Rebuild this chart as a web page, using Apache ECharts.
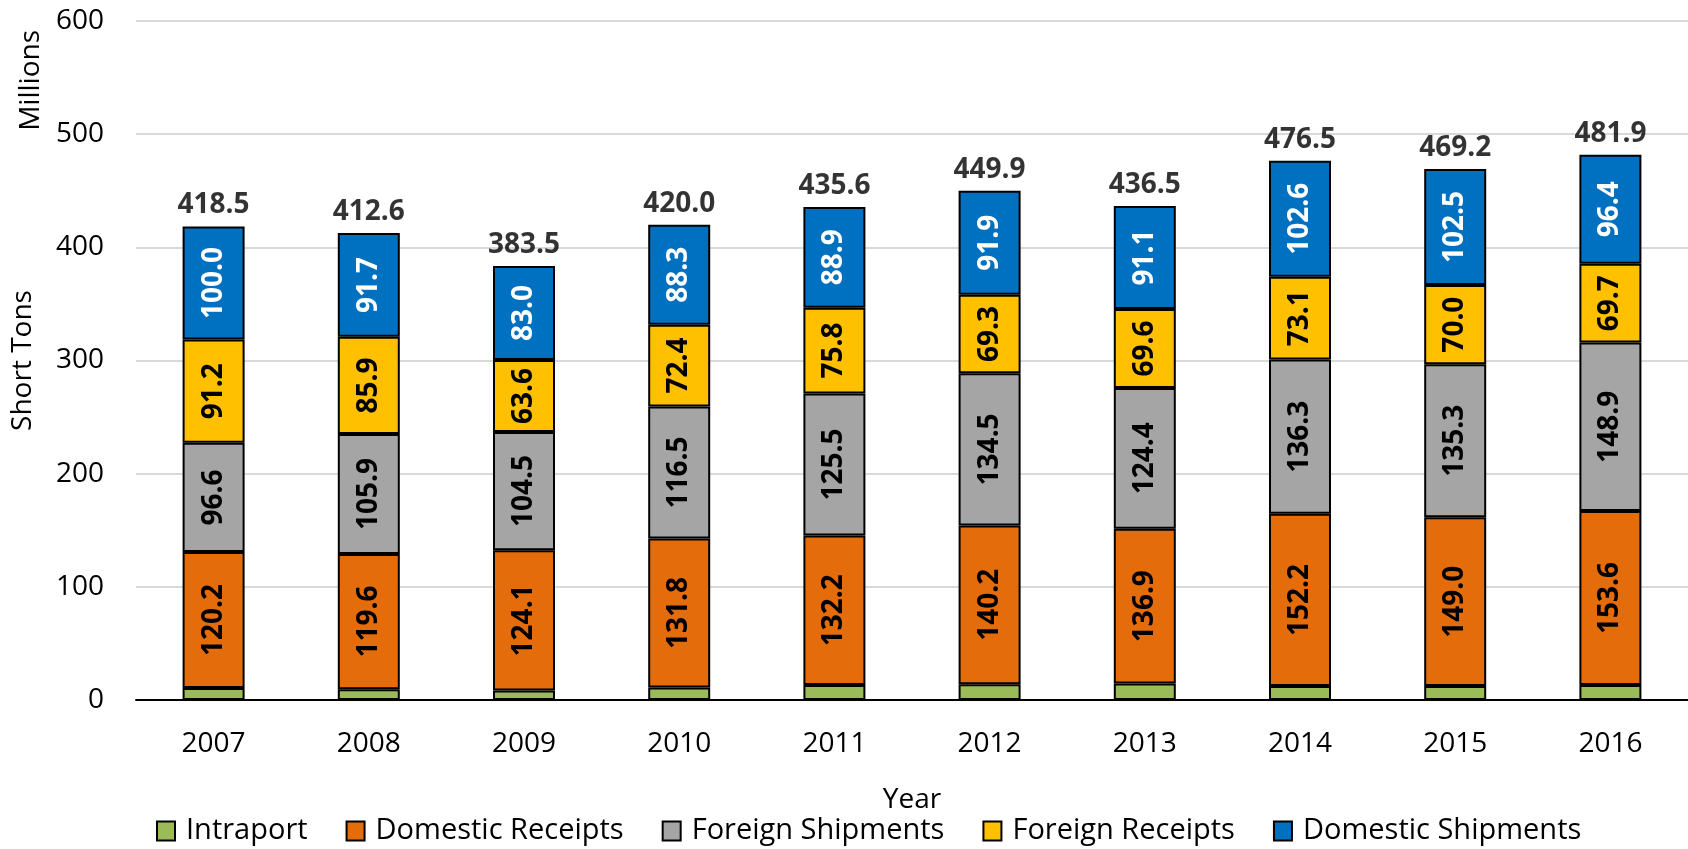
<!DOCTYPE html>
<html>
<head>
<meta charset="utf-8">
<script src="https://cdn.jsdelivr.net/npm/echarts@6/dist/echarts.min.js"></script>
<style>
  html, body { margin: 0; padding: 0; background: #fff; }
  #chart { width: 1688px; height: 849px; }
</style>
</head>
<body>
<div id="chart"></div>
<script>
"use strict";

// ── Datos ─────────────────────────────────────────────────────────────────
const years = ["2007","2008","2009","2010","2011","2012","2013","2014","2015","2016"];
const intraport         = [10.5, 9.5, 8.3, 11.0, 13.2, 14.0, 14.5, 12.3, 12.4, 13.3];
const domesticReceipts  = [120.2, 119.6, 124.1, 131.8, 132.2, 140.2, 136.9, 152.2, 149.0, 153.6];
const foreignShipments  = [96.6, 105.9, 104.5, 116.5, 125.5, 134.5, 124.4, 136.3, 135.3, 148.9];
const foreignReceipts   = [91.2, 85.9, 63.6, 72.4, 75.8, 69.3, 69.6, 73.1, 70.0, 69.7];
const domesticShipments = [100.0, 91.7, 83.0, 88.3, 88.9, 91.9, 91.1, 102.6, 102.5, 96.4];
const totals            = [418.5, 412.6, 383.5, 420.0, 435.6, 449.9, 436.5, 476.5, 469.2, 481.9];

// ── Estilo ────────────────────────────────────────────────────────────────
const FONT = "'Open Sans', 'Liberation Sans', sans-serif";
const FS = 28;      // ejes
const FS_LBL = 28;  // etiquetas de datos (negrita)

function segLabel(show, color) {
  return {
    show,
    position: "inside",
    rotate: 90,
    fontFamily: FONT, fontSize: FS_LBL, fontWeight: "bold", color,
    formatter: p => p.value.toFixed(1),
  };
}

function stackSeries(name, data, color, labelColor) {
  return {
    name, type: "bar", stack: "total", data,
    barWidth: 62,
    itemStyle: { color, borderColor: "#000", borderWidth: 2 },
    label: segLabel(!!labelColor, labelColor || "#000"),
  };
}

const chart = echarts.init(document.getElementById("chart"), null, { renderer: "canvas" });

chart.setOption({
  animation: false,
  textStyle: { fontFamily: FONT },
  grid: { left: 136, width: 1556, top: 21, bottom: 149 },
  legend: {
    data: ["Intraport","Domestic Receipts","Foreign Shipments","Foreign Receipts","Domestic Shipments"],
    left: 156, top: 816, padding: 0,
    itemWidth: 18, itemHeight: 19, itemGap: 38,
    icon: "rect",
    itemStyle: { borderColor: "#000", borderWidth: 2 },
    textStyle: { fontFamily: FONT, fontSize: 29, color: "#000", padding: [0, 0, 0, 6], lineHeight: 30 },
  },
  xAxis: {
    type: "category", data: years,
    name: "Year", nameLocation: "middle", nameGap: 86,
    nameTextStyle: { fontFamily: FONT, fontSize: FS, color: "#000" },
    axisLine: { lineStyle: { color: "#000", width: 2 } },
    axisTick: { show: false },
    axisLabel: { fontFamily: FONT, fontSize: FS, color: "#000", margin: 30 },
  },
  yAxis: {
    type: "value", min: 0, max: 600, interval: 100,
    name: "Short Tons", nameLocation: "middle", nameGap: 99, nameRotate: 90,
    nameTextStyle: { fontFamily: FONT, fontSize: FS, color: "#000" },
    axisLine: { show: false }, axisTick: { show: false },
    axisLabel: { fontFamily: FONT, fontSize: FS, color: "#000", margin: 32 },
    splitLine: { lineStyle: { color: "#d9d9d9", width: 2 } },
  },
  graphic: [{
    type: "text", left: 17, top: 30, rotation: Math.PI / 2,
    style: { text: "Millions", fontFamily: FONT, fontSize: FS, fill: "#000" },
  }],
  series: [
    stackSeries("Intraport", intraport, "#9bbb59", null),
    stackSeries("Domestic Receipts", domesticReceipts, "#e46c0a", "#000"),
    stackSeries("Foreign Shipments", foreignShipments, "#a5a5a5", "#000"),
    stackSeries("Foreign Receipts", foreignReceipts, "#ffc000", "#000"),
    stackSeries("Domestic Shipments", domesticShipments, "#0070c0", "#fff"),
    {
      name: "Total", type: "scatter", data: totals,
      symbolSize: 0, silent: true,
      label: {
        show: true, position: "top", distance: 7,
        fontFamily: FONT, fontSize: FS_LBL, fontWeight: "bold", color: "#000",
        formatter: p => p.value.toFixed(1),
      },
    },
  ],
});
</script>
</body>
</html>
